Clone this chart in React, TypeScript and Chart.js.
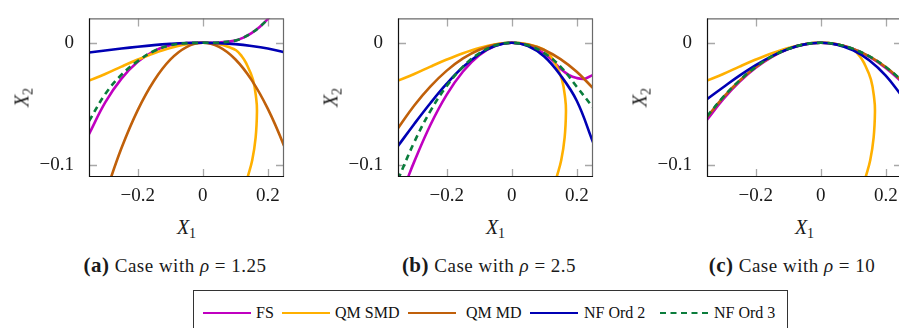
import React, { useEffect, useRef } from "react";
import { Chart, registerables } from "chart.js";

Chart.register(...registerables);

// ---------- data ----------
const seriesNames = ["FS", "QM SMD", "QM MD", "NF Ord 2", "NF Ord 3"];
const caseTags = ["(a)", "(b)", "(c)"];
const rhoValues = ["1.25", "2.5", "10"];

const xTickValues = [-0.2, 0, 0.2];
const yTickValues = [-0.1, 0];
const xMin = -0.35;
const xMax = 0.25;
const yMin = -0.11;
const yMax = 0.02;

const xGrid = [-0.35, -0.3, -0.25, -0.2, -0.15, -0.1, -0.05, 0, 0.05, 0.1, 0.15, 0.2, 0.25];

// QM SMD (same curve in all three cases)
const qmSmdX = [-0.35, -0.3, -0.25, -0.2, -0.15, -0.1, -0.05, 0, 0.05, 0.08, 0.1025, 0.12, 0.1335, 0.1543, 0.1646, 0.1668, 0.1627, 0.1522, 0.1388, 0.13];
const qmSmdY = [-0.031, -0.0256, -0.0195, -0.0137, -0.0085, -0.0042, -0.0012, 0, -0.0012, -0.0035, -0.0061, -0.011, -0.0167, -0.03, -0.0459, -0.0565, -0.0777, -0.0963, -0.1095, -0.118];

// Case (a) rho = 1.25
const fsAX = [-0.35, -0.3, -0.25, -0.2, -0.15, -0.1, -0.05, 0, 0.05, 0.1, 0.125, 0.15, 0.175, 0.2, 0.225];
const fsAY = [-0.0748, -0.0489, -0.0294, -0.0156, -0.0068, -0.0021, -0.0003, 0, 0.0003, 0.0018, 0.0043, 0.008, 0.013, 0.0195, 0.0285];
const nf3AY = [-0.0642, -0.042, -0.0262, -0.015, -0.0067, -0.0021, -0.0003, 0, 0.0003, 0.0018, 0.0043, 0.008, 0.013, 0.0195, 0.0285];
const qmMdAX = [-0.3, -0.25, -0.2, -0.15, -0.1, -0.05, 0, 0.05, 0.1, 0.15, 0.2, 0.25, 0.3];
const qmMdAY = [-0.1242, -0.0863, -0.0552, -0.0311, -0.0138, -0.0035, 0, -0.0034, -0.0135, -0.0304, -0.054, -0.0845, -0.1217];
const nf2AY = [-0.008, -0.0063, -0.0047, -0.0032, -0.0019, -0.0009, -0.0002, 0, -0.0003, -0.0011, -0.0026, -0.0047, -0.0077];

// Case (b) rho = 2.5
const fsBX = [-0.325, -0.3, -0.25, -0.2, -0.15, -0.1, -0.05, 0, 0.05, 0.1, 0.125, 0.15, 0.175, 0.2, 0.225, 0.25];
const fsBY = [-0.1143, -0.0974, -0.0672, -0.0425, -0.0235, -0.0102, -0.0025, 0, -0.0022, -0.0088, -0.0145, -0.0212, -0.0263, -0.0289, -0.0294, -0.0263];
const qmMdBY = [-0.07, -0.0514, -0.0357, -0.0228, -0.0128, -0.0057, -0.0014, 0, -0.0015, -0.0059, -0.0134, -0.0238, -0.0371];
const nf2BY = [-0.0846, -0.0665, -0.0493, -0.0335, -0.0199, -0.0094, -0.0025, 0, -0.0027, -0.0113, -0.0266, -0.0475, -0.0815];
const nf3BY = [-0.112, -0.0814, -0.0558, -0.0354, -0.0196, -0.0086, -0.0021, 0, -0.0021, -0.0084, -0.0195, -0.036, -0.053];

// Case (c) rho = 10
const fsCY = [-0.0631, -0.0462, -0.032, -0.0205, -0.0115, -0.0051, -0.0013, 0, -0.0013, -0.0051, -0.0116, -0.0206, -0.0322];
const qmMdCY = [-0.0609, -0.0447, -0.0311, -0.0199, -0.0112, -0.005, -0.0012, 0, -0.0012, -0.005, -0.0112, -0.0199, -0.0311];
const nf2CY = [-0.0462, -0.0364, -0.0269, -0.0183, -0.0109, -0.0051, -0.0013, 0, -0.0015, -0.0062, -0.0145, -0.0269, -0.0437];
const nf3CY = [-0.0603, -0.0444, -0.0309, -0.0198, -0.0111, -0.005, -0.0012, 0, -0.0012, -0.005, -0.0111, -0.0198, -0.0309];

// ---------- styling ----------
const COLORS = ["#c000c0", "#ffb000", "#c0600a", "#0000b4", "#0a7d3c"];
const FONT = "'Liberation Serif', 'DejaVu Serif', 'Latin Modern Roman', 'CMU Serif', 'Times New Roman', 'Nimbus Roman', FreeSerif, serif";
const PLOT_LEFTS = [89, 398, 707];
const PLOT_TOP = 14;
const PLOT_W = 195;
const PLOT_H = 163;
const Y_AXIS_W = 62;
const PAD_R = 12;
const CW = Y_AXIS_W + PLOT_W + PAD_R;
const CH = 210;

const pts = (xs: number[], ys: number[]) => xs.map((x, i) => ({ x, y: ys[i] }));

const panels = [
  [pts(fsAX, fsAY), pts(qmSmdX, qmSmdY), pts(qmMdAX, qmMdAY), pts(xGrid, nf2AY), pts(fsAX, nf3AY)],
  [pts(fsBX, fsBY), pts(qmSmdX, qmSmdY), pts(xGrid, qmMdBY), pts(xGrid, nf2BY), pts(xGrid, nf3BY)],
  [pts(xGrid, fsCY), pts(qmSmdX, qmSmdY), pts(xGrid, qmMdCY), pts(xGrid, nf2CY), pts(xGrid, nf3CY)],
];

const fmt = (v: number) => {
  if (Math.abs(v) < 1e-12) return "0";
  return v < 0 ? "\u2212" + String(Math.abs(v)) : String(v);
};

const frameTicks = {
  id: "frameTicks",
  beforeDatasetsDraw(chart: any) {
    const { ctx, chartArea: a, scales } = chart;
    const L = 8;
    ctx.save();
    ctx.strokeStyle = "#a8a8a8";
    ctx.lineWidth = 1.3;
    ctx.beginPath();
    for (const t of scales.x.ticks) {
      const px = Math.round(scales.x.getPixelForValue(t.value)) + 0.5;
      ctx.moveTo(px, a.top);
      ctx.lineTo(px, a.top + L);
      ctx.moveTo(px, a.bottom);
      ctx.lineTo(px, a.bottom - L);
    }
    for (const t of scales.y.ticks) {
      const py = Math.round(scales.y.getPixelForValue(t.value)) + 0.5;
      ctx.moveTo(a.left, py);
      ctx.lineTo(a.left + L, py);
      ctx.moveTo(a.right, py);
      ctx.lineTo(a.right - L, py);
    }
    ctx.stroke();
    ctx.restore();
  },
  afterDatasetsDraw(chart: any) {
    const { ctx, chartArea: a } = chart;
    ctx.save();
    ctx.lineWidth = 1.2;
    ctx.strokeStyle = "#6a6a6a";
    ctx.beginPath();
    ctx.moveTo(a.left, a.top + 0.5);
    ctx.lineTo(a.right, a.top + 0.5);
    ctx.moveTo(a.right - 0.5, a.top);
    ctx.lineTo(a.right - 0.5, a.bottom);
    ctx.stroke();
    ctx.strokeStyle = "#111";
    ctx.beginPath();
    ctx.moveTo(a.left + 0.5, a.top);
    ctx.lineTo(a.left + 0.5, a.bottom);
    ctx.moveTo(a.left, a.bottom - 0.5);
    ctx.lineTo(a.right, a.bottom - 0.5);
    ctx.stroke();
    ctx.restore();
  },
};

function Panel({ idx }: { idx: number }) {
  const ref = useRef<HTMLCanvasElement>(null);
  useEffect(() => {
    const chart = new Chart(ref.current as HTMLCanvasElement, {
      type: "scatter",
      data: {
        datasets: panels[idx].map((d, i) => ({
          label: seriesNames[i],
          data: d,
          showLine: true,
          borderColor: COLORS[i],
          backgroundColor: COLORS[i],
          borderWidth: 2.6,
          borderDash: i === 4 ? [6, 4.5] : [],
          pointRadius: 0,
          tension: 0.4,
          fill: false,
          clip: 0,
          order: 5 - i,
        })),
      },
      options: {
        animation: false,
        responsive: false,
        maintainAspectRatio: false,
        events: [],
        layout: { padding: { top: PLOT_TOP, right: PAD_R, left: 0, bottom: 0 } },
        plugins: { legend: { display: false }, tooltip: { enabled: false } },
        scales: {
          x: {
            type: "linear",
            min: xMin,
            max: xMax,
            afterBuildTicks: (s: any) => {
              s.ticks = xTickValues.map((v) => ({ value: v }));
            },
            afterFit: (s: any) => {
              s.height = CH - PLOT_TOP - PLOT_H;
            },
            grid: { display: false },
            border: { display: false },
            ticks: {
              padding: 0,
              autoSkip: false,
              maxRotation: 0,
              color: "#1a1a1a",
              font: { family: FONT, size: 19 },
              callback: (v: any) => fmt(Number(v)),
            },
          },
          y: {
            type: "linear",
            min: yMin,
            max: yMax,
            afterBuildTicks: (s: any) => {
              s.ticks = yTickValues.map((v) => ({ value: v }));
            },
            afterFit: (s: any) => {
              s.width = Y_AXIS_W;
            },
            grid: { display: false },
            border: { display: false },
            ticks: {
              padding: 7,
              autoSkip: false,
              color: "#1a1a1a",
              font: { family: FONT, size: 19 },
              callback: (v: any) => fmt(Number(v)),
            },
          },
        },
      } as any,
      plugins: [frameTicks],
    });
    return () => chart.destroy();
  }, [idx]);
  return (
    <canvas
      ref={ref}
      width={CW}
      height={CH}
      style={{ position: "absolute", left: PLOT_LEFTS[idx] - Y_AXIS_W, top: 0, width: CW, height: CH }}
    />
  );
}

function AxisTitles({ idx }: { idx: number }) {
  const left = PLOT_LEFTS[idx];
  const cx = left + PLOT_W / 2;
  const cy = PLOT_TOP + PLOT_H / 2;
  const base: React.CSSProperties = {
    position: "absolute",
    fontFamily: FONT,
    fontStyle: "italic",
    fontSize: 20,
    lineHeight: "24px",
    width: 60,
    textAlign: "center",
    color: "#1a1a1a",
    whiteSpace: "nowrap",
  };
  const sub: React.CSSProperties = { fontStyle: "normal", fontSize: 14, position: "relative", top: 4 };
  return (
    <>
      <div style={{ ...base, left: cx - 30, top: 228 - 13 }}>
        X<span style={sub}>1</span>
      </div>
      <div style={{ ...base, left: left - 66 - 30, top: cy - 12, transform: "rotate(-90deg)" }}>
        X<span style={sub}>2</span>
      </div>
    </>
  );
}

const captionCenters = [175, 489, 792];

function Caption({ idx }: { idx: number }) {
  return (
    <div
      style={{
        position: "absolute",
        left: captionCenters[idx] - 150,
        top: 252,
        width: 300,
        textAlign: "center",
        fontFamily: FONT,
        fontSize: 19,
        letterSpacing: 0.5,
        lineHeight: "26px",
        color: "#1a1a1a",
        whiteSpace: "nowrap",
      }}
    >
      <b style={{ fontSize: 21 }}>{caseTags[idx]}</b> Case with <i>ρ</i> = {rhoValues[idx]}
    </div>
  );
}

const legendLineLefts = [203, 282, 408, 530, 660];
const legendTextLefts = [256, 335, 466, 584, 714];

function Legend() {
  return (
    <div
      style={{
        position: "absolute",
        left: 193,
        top: 290,
        width: 595,
        height: 50,
        border: "1px solid #333",
        boxSizing: "border-box",
        fontFamily: FONT,
        fontSize: 16,
        color: "#111",
        whiteSpace: "nowrap",
      }}
    >
      {seriesNames.map((n, i) => (
        <React.Fragment key={n}>
          <div
            style={{
              position: "absolute",
              left: legendLineLefts[i] - 194,
              top: 21,
              width: 48,
              height: 0,
              borderTop: i === 4 ? `2.6px dashed ${COLORS[i]}` : `2.6px solid ${COLORS[i]}`,
            }}
          />
          <span style={{ position: "absolute", left: legendTextLefts[i] - 194, top: 11, lineHeight: "22px" }}>{n}</span>
        </React.Fragment>
      ))}
    </div>
  );
}

export default function App() {
  return (
    <div
      style={{
        position: "fixed",
        left: 0,
        top: 0,
        width: 899,
        height: 328,
        overflow: "hidden",
        background: "#fff",
      }}
    >
      {[0, 1, 2].map((i) => (
        <React.Fragment key={i}>
          <Panel idx={i} />
          <AxisTitles idx={i} />
          <Caption idx={i} />
        </React.Fragment>
      ))}
      <Legend />
    </div>
  );
}
